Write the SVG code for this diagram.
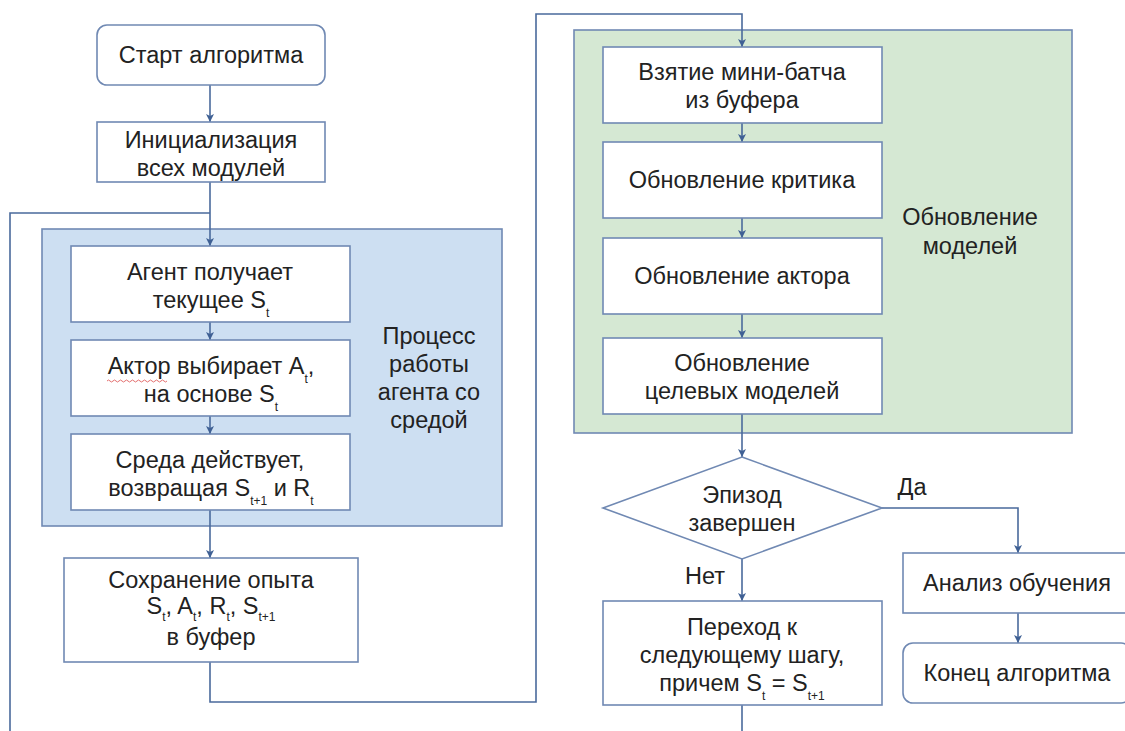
<svg xmlns="http://www.w3.org/2000/svg" width="1125" height="731" viewBox="0 0 1125 731">
<defs>
<style>
.box{fill:#ffffff;stroke:#7089b3;stroke-width:1.6}
.grpB{fill:#cddff2;stroke:#7089b3;stroke-width:1.6}
.grpG{fill:#d5e8d3;stroke:#7089b3;stroke-width:1.6}
.t{font-family:"Liberation Sans",Arial,sans-serif;font-size:23.5px;fill:#222222;text-anchor:middle}
.s{font-size:12px}
.c{fill:none;stroke:#4a6a9c;stroke-width:1.6}
</style>
<marker id="ah" viewBox="0 0 10 10" refX="10" refY="5" markerWidth="8" markerHeight="8" markerUnits="userSpaceOnUse" orient="auto">
<path d="M0,0 L10,5 L0,10 L2.5,5 Z" fill="#3f6094"/>
</marker>
</defs>
<rect width="1125" height="731" fill="#ffffff"/>

<g id="group-process">
<rect class="grpB" x="42" y="229" width="460" height="297"/>
<text class="t"><tspan x="429" y="344">Процесс</tspan><tspan x="429" y="372">работы</tspan><tspan x="429" y="400">агента со</tspan><tspan x="429" y="428">средой</tspan></text>
</g>
<g id="group-update">
<rect class="grpG" x="574" y="30" width="498" height="403"/>
<text class="t"><tspan x="970" y="225">Обновление</tspan><tspan x="970" y="254">моделей</tspan></text>
</g>

<g id="connectors">
<path class="c" d="M210,85 V122" marker-end="url(#ah)"/>
<path class="c" d="M210,182 V246" marker-end="url(#ah)"/>
<path class="c" d="M10,740 V213 H210"/>
<path class="c" d="M210,322 V340" marker-end="url(#ah)"/>
<path class="c" d="M210,416 V434" marker-end="url(#ah)"/>
<path class="c" d="M210,510 V558" marker-end="url(#ah)"/>
<path class="c" d="M210,662 V702 H536 V14 H742 V47" marker-end="url(#ah)"/>
<path class="c" d="M742,123 V142" marker-end="url(#ah)"/>
<path class="c" d="M742,218 V238" marker-end="url(#ah)"/>
<path class="c" d="M742,314 V338" marker-end="url(#ah)"/>
<path class="c" d="M742,414 V457" marker-end="url(#ah)"/>
<path class="c" d="M742,559 V601" marker-end="url(#ah)"/>
<path class="c" d="M882,508 H1018 V553" marker-end="url(#ah)"/>
<path class="c" d="M1018,613 V643" marker-end="url(#ah)"/>
<path class="c" d="M742,705 V740"/>
<text class="t" x="705" y="584">Нет</text>
<text class="t" x="912" y="495">Да</text>
</g>

<g id="start">
<rect class="box" x="97" y="25" width="228" height="60" rx="10"/>
<text class="t" x="211" y="63">Старт алгоритма</text>
</g>
<g id="init">
<rect class="box" x="97" y="122" width="228" height="60"/>
<text class="t"><tspan x="211" y="148">Инициализация</tspan><tspan x="211" y="176">всех модулей</tspan></text>
</g>
<g id="agent">
<rect class="box" x="71" y="246" width="279" height="76"/>
<text class="t"><tspan x="210" y="280">Агент получает</tspan><tspan x="211" y="308">текущее S</tspan><tspan class="s" dy="9">t</tspan></text>
</g>
<g id="actor">
<rect class="box" x="71" y="340" width="279" height="76"/>
<text class="t"><tspan x="211" y="374">Актор выбирает A</tspan><tspan class="s" dy="9">t</tspan><tspan dy="-9">,</tspan><tspan x="211" y="402">на основе S</tspan><tspan class="s" dy="9">t</tspan></text>
<path d="M107,381 q1.5,-2 3,0 t3,0 t3,0 t3,0 t3,0 t3,0 t3,0 t3,0 t3,0 t3,0 t3,0 t3,0 t3,0 t3,0 t3,0 t3,0 t3,0 t3,0 t3,0 t3,0" fill="none" stroke="#e06060" stroke-width="0.9"/>
</g>
<g id="env">
<rect class="box" x="71" y="434" width="279" height="76"/>
<text class="t"><tspan x="210" y="468">Среда действует,</tspan><tspan x="211" y="496">возвращая S</tspan><tspan class="s" dy="9">t+1</tspan><tspan dy="-9"> и R</tspan><tspan class="s" dy="9">t</tspan></text>
</g>
<g id="save">
<rect class="box" x="64" y="558" width="294" height="104"/>
<text class="t"><tspan x="211" y="588">Сохранение опыта</tspan><tspan x="211" y="614">S</tspan><tspan class="s" dy="7">t</tspan><tspan dy="-7">, A</tspan><tspan class="s" dy="7">t</tspan><tspan dy="-7">, R</tspan><tspan class="s" dy="7">t</tspan><tspan dy="-7">, S</tspan><tspan class="s" dy="7">t+1</tspan><tspan x="211" y="645">в буфер</tspan></text>
</g>
<g id="batch">
<rect class="box" x="603" y="47" width="279" height="76"/>
<text class="t"><tspan x="742" y="80">Взятие мини-батча</tspan><tspan x="742" y="108">из буфера</tspan></text>
</g>
<g id="critic">
<rect class="box" x="603" y="142" width="279" height="76"/>
<text class="t" x="742" y="188">Обновление критика</text>
</g>
<g id="actor-upd">
<rect class="box" x="603" y="238" width="279" height="76"/>
<text class="t" x="742" y="284">Обновление актора</text>
</g>
<g id="target">
<rect class="box" x="603" y="338" width="279" height="76"/>
<text class="t"><tspan x="742" y="371">Обновление</tspan><tspan x="742" y="399">целевых моделей</tspan></text>
</g>
<g id="decision">
<polygon class="box" points="742,457 882,508 742,559 603,508"/>
<text class="t"><tspan x="742" y="503">Эпизод</tspan><tspan x="742" y="531">завершен</tspan></text>
</g>
<g id="next">
<rect class="box" x="603" y="601" width="279" height="104"/>
<text class="t"><tspan x="742" y="635">Переход к</tspan><tspan x="742" y="663">следующему шагу,</tspan><tspan x="742" y="691">причем S</tspan><tspan class="s" dy="9">t</tspan><tspan dy="-9"> = S</tspan><tspan class="s" dy="9">t+1</tspan></text>
</g>
<g id="analysis">
<rect class="box" x="903" y="553" width="228" height="60"/>
<text class="t" x="1017" y="591">Анализ обучения</text>
</g>
<g id="end">
<rect class="box" x="903" y="643" width="228" height="60" rx="10"/>
<text class="t" x="1017" y="681">Конец алгоритма</text>
</g>
</svg>
